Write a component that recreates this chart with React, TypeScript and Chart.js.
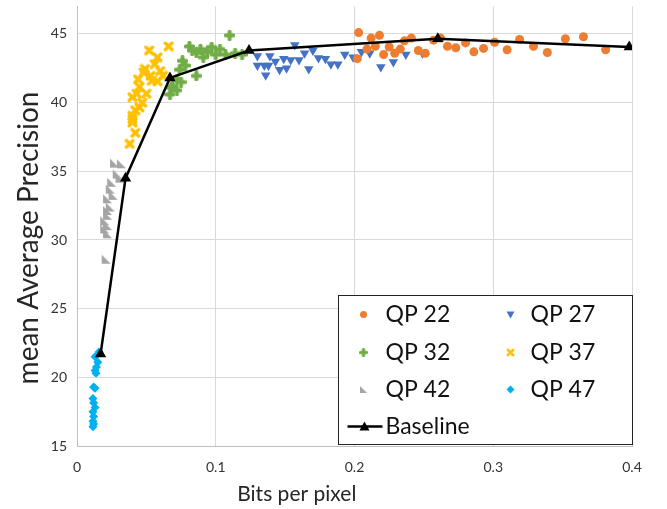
import { useEffect, useRef } from 'react';
import { Chart, registerables } from 'chart.js';

Chart.register(...registerables);

// ---- data (x = bits per pixel, y = mean Average Precision) ----
const qp22: [number, number][] = [
  [0.203, 45.1], [0.212, 44.7], [0.218, 44.9], [0.209, 43.9], [0.215, 44.1], [0.202, 43.2],
  [0.221, 43.5], [0.225, 44.05], [0.229, 43.6], [0.233, 43.9], [0.241, 44.7], [0.246, 43.8],
  [0.251, 43.6], [0.257, 44.55], [0.262, 44.7], [0.267, 44.1], [0.273, 44.0], [0.28, 44.35],
  [0.286, 43.7], [0.293, 43.95], [0.301, 44.4], [0.31, 43.85], [0.319, 44.6], [0.329, 44.1],
  [0.339, 43.65], [0.352, 44.65], [0.365, 44.8], [0.381, 43.85], [0.236, 44.5],
];
const qp27: [number, number][] = [
  [0.13, 43.4], [0.13, 42.7], [0.136, 42.0], [0.135, 42.7], [0.139, 43.4], [0.138, 42.7],
  [0.143, 43.0], [0.146, 42.4], [0.149, 43.2], [0.151, 42.5], [0.154, 43.1], [0.157, 44.2],
  [0.16, 43.1], [0.164, 43.6], [0.167, 42.45], [0.17, 43.8], [0.174, 43.25], [0.179, 43.2],
  [0.183, 42.8], [0.188, 42.8], [0.193, 43.5], [0.199, 43.3], [0.205, 43.7], [0.211, 43.6],
  [0.219, 42.6], [0.228, 42.95], [0.237, 43.5], [0.249, 43.6],
];
const qp32: [number, number][] = [
  [0.11, 44.9], [0.081, 44.1], [0.097, 44.05], [0.103, 43.9], [0.086, 43.65], [0.091, 43.3],
  [0.1, 43.5], [0.107, 43.5], [0.114, 43.6], [0.119, 43.5], [0.076, 43.05], [0.078, 42.7],
  [0.074, 42.4], [0.086, 41.95], [0.072, 41.7], [0.075, 41.5], [0.068, 41.1], [0.072, 40.9],
  [0.067, 40.6], [0.069, 41.2], [0.089, 43.9], [0.094, 43.7], [0.083, 43.8],
];
const qp37: [number, number][] = [
  [0.066, 44.1], [0.052, 43.8], [0.058, 43.3], [0.056, 42.8], [0.049, 42.45], [0.048, 42.2],
  [0.06, 42.3], [0.053, 41.95], [0.062, 41.95], [0.058, 41.55], [0.044, 41.7], [0.054, 41.6],
  [0.045, 41.15], [0.043, 40.65], [0.05, 40.65], [0.04, 40.4], [0.047, 40.0], [0.045, 39.65],
  [0.042, 39.45], [0.04, 39.05], [0.04, 38.8], [0.04, 38.55], [0.042, 37.8], [0.038, 37.0],
];
const qp42: [number, number][] = [
  [0.027, 35.6], [0.032, 35.55], [0.029, 34.8], [0.031, 34.5], [0.025, 34.2], [0.024, 33.7],
  [0.026, 33.25], [0.022, 33.0], [0.024, 32.4], [0.022, 32.15], [0.022, 31.8], [0.02, 31.4],
  [0.022, 31.05], [0.02, 30.8], [0.022, 30.45], [0.021, 28.6],
];
const qp47: [number, number][] = [
  [0.0158, 21.85], [0.013, 21.5], [0.015, 21.1], [0.014, 20.75], [0.013, 20.5], [0.0137, 20.3],
  [0.012, 19.3], [0.013, 19.2], [0.0115, 18.45], [0.012, 18.15], [0.013, 17.8], [0.0115, 17.5],
  [0.012, 17.15], [0.0115, 16.8], [0.0115, 16.4], [0.012, 16.6],
];
const baseline: [number, number][] = [
  [0.017, 21.7], [0.035, 34.5], [0.067, 41.8], [0.124, 43.8], [0.26, 44.65], [0.398, 44.05],
];
const seriesLabels = ['QP 22', 'QP 27', 'QP 32', 'QP 37', 'QP 42', 'QP 47', 'Baseline'];
const xTicks = [0, 0.1, 0.2, 0.3, 0.4];
const yTicks = [15, 20, 25, 30, 35, 40, 45];
const yMax = 47;
const xTitle = 'Bits per pixel';
const yTitle = 'mean Average Precision';

const FONT = 'Lato, "Noto Sans", sans-serif';

function toPts(a: [number, number][]) {
  return a.map(([x, y]) => ({ x, y }));
}

function makeCanvas(size: number, draw: (g: CanvasRenderingContext2D) => void) {
  const c = document.createElement('canvas');
  c.width = size;
  c.height = size;
  const g = c.getContext('2d')!;
  draw(g);
  return c;
}

export default function App() {
  const ref = useRef<HTMLCanvasElement | null>(null);

  useEffect(() => {
    if (!ref.current) return;

    const plus = makeCanvas(11, (g) => {
      g.fillStyle = '#70AD47';
      g.beginPath();
      g.roundRect(0, 3.5, 11, 4, 1.5);
      g.roundRect(3.5, 0, 4, 11, 1.5);
      g.fill();
    });
    const xMark = makeCanvas(11, (g) => {
      g.strokeStyle = '#FFC000';
      g.lineWidth = 3.4;
      g.lineCap = 'round';
      g.beginPath();
      g.moveTo(2.2, 2.2); g.lineTo(8.8, 8.8);
      g.moveTo(8.8, 2.2); g.lineTo(2.2, 8.8);
      g.stroke();
    });
    const corner = makeCanvas(11, (g) => {
      g.fillStyle = '#A5A5A5';
      g.beginPath();
      g.moveTo(1, 1); g.lineTo(1, 10); g.lineTo(10, 10);
      g.closePath();
      g.fill();
    });

    const scatterBase = { showLine: false, pointBorderWidth: 0 };
    const datasets: any[] = [
      { ...scatterBase, label: seriesLabels[0], data: toPts(qp22), backgroundColor: '#ED7D31', borderColor: '#ED7D31', pointStyle: 'circle', pointRadius: 4.5 },
      { ...scatterBase, label: seriesLabels[1], data: toPts(qp27), backgroundColor: '#4472C4', borderColor: '#4472C4', pointStyle: 'triangle', pointRotation: 180, pointRadius: 5.5 },
      { ...scatterBase, label: seriesLabels[2], data: toPts(qp32), backgroundColor: '#70AD47', borderColor: '#70AD47', pointStyle: plus, pointRadius: 5 },
      { ...scatterBase, label: seriesLabels[3], data: toPts(qp37), backgroundColor: '#FFC000', borderColor: '#FFC000', pointStyle: xMark, pointRadius: 5 },
      { ...scatterBase, label: seriesLabels[4], data: toPts(qp42), backgroundColor: '#A5A5A5', borderColor: '#A5A5A5', pointStyle: corner, pointRadius: 5 },
      { ...scatterBase, label: seriesLabels[5], data: toPts(qp47), backgroundColor: '#00B0F0', borderColor: '#00B0F0', pointStyle: 'rectRot', pointRadius: 4.5 },
      {
        label: seriesLabels[6], data: toPts(baseline), showLine: true, borderColor: '#000', backgroundColor: '#000',
        borderWidth: 2.5, pointStyle: 'triangle', pointRadius: 6.5, pointBorderWidth: 0, order: -1,
      },
    ];

    function drawMarker(ctx: CanvasRenderingContext2D, ds: any, x: number, y: number) {
      const st = ds.pointStyle;
      ctx.save();
      ctx.fillStyle = ds.backgroundColor;
      if (st instanceof HTMLCanvasElement) {
        const s = 0.8;
        ctx.drawImage(st, x - (st.width * s) / 2, y - (st.height * s) / 2, st.width * s, st.height * s);
      } else if (st === 'circle') {
        ctx.beginPath(); ctx.arc(x, y, 3.5, 0, Math.PI * 2); ctx.fill();
      } else if (st === 'triangle' && ds.pointRotation === 180) {
        ctx.beginPath(); ctx.moveTo(x - 4, y - 3); ctx.lineTo(x + 4, y - 3); ctx.lineTo(x, y + 4); ctx.closePath(); ctx.fill();
      } else if (st === 'rectRot') {
        ctx.beginPath(); ctx.moveTo(x, y - 4); ctx.lineTo(x + 4, y); ctx.lineTo(x, y + 4); ctx.lineTo(x - 4, y); ctx.closePath(); ctx.fill();
      } else if (st === 'triangle') {
        ctx.beginPath(); ctx.moveTo(x, y - 5); ctx.lineTo(x + 5, y + 4); ctx.lineTo(x - 5, y + 4); ctx.closePath(); ctx.fill();
      }
      ctx.restore();
    }

    const overlay = {
      id: 'overlay',
      afterDatasetsDraw(chart: any) {
        const ctx: CanvasRenderingContext2D = chart.ctx;
        const ca = chart.chartArea;
        // legend box
        const w = 294, h = 149;
        const bx = Math.round(ca.right - w) + 0.5;
        const by = Math.round(ca.bottom - h - 2) + 0.5;
        ctx.save();
        ctx.fillStyle = '#fff';
        ctx.fillRect(bx, by, w, h);
        ctx.strokeStyle = '#222';
        ctx.lineWidth = 1;
        ctx.strokeRect(bx, by, w, h);
        ctx.font = `23px ${FONT}`;
        ctx.textBaseline = 'middle';
        ctx.fillStyle = '#111';
        const rowY = [19, 57, 94, 131];
        const ds = chart.data.datasets;
        for (let i = 0; i < 6; i++) {
          const col = i % 2, row = Math.floor(i / 2);
          const mx = bx + (col === 0 ? 25 : 172);
          const tx = bx + (col === 0 ? 47 : 192);
          const y = by + rowY[row];
          drawMarker(ctx, ds[i], mx, y);
          ctx.fillStyle = '#111';
          ctx.fillText(ds[i].label, tx, y);
        }
        const ly = by + rowY[3];
        ctx.strokeStyle = '#000';
        ctx.lineWidth = 2.5;
        ctx.beginPath(); ctx.moveTo(bx + 9, ly); ctx.lineTo(bx + 44, ly); ctx.stroke();
        drawMarker(ctx, ds[6], bx + 26, ly);
        ctx.fillStyle = '#111';
        ctx.fillText(ds[6].label, bx + 47, ly);

        // axis titles
        ctx.fillStyle = '#262626';
        ctx.textAlign = 'center';
        ctx.font = `21px ${FONT}`;
        ctx.fillText(xTitle, ca.left + ca.width * 0.396, chart.height - 15);
        ctx.translate(29, 238);
        ctx.rotate(-Math.PI / 2);
        ctx.font = `28px ${FONT}`;
        ctx.fillText(yTitle, 0, 0);
        ctx.restore();
      },
    };

    const tickFont = { family: FONT, size: 14 };
    const chart = new Chart(ref.current, {
      type: 'scatter',
      data: { datasets },
      options: {
        animation: false,
        responsive: false,
        maintainAspectRatio: false,
        layout: { padding: { top: 5.5, right: 35, left: 0, bottom: 0 } },
        plugins: { legend: { display: false }, tooltip: { enabled: false } },
        scales: {
          x: {
            type: 'linear',
            min: xTicks[0],
            max: xTicks[xTicks.length - 1],
            afterBuildTicks: (s: any) => { s.ticks = xTicks.map((v) => ({ value: v })); },
            ticks: { padding: 13, font: tickFont, color: '#333', callback: (v: any) => String(Math.round(Number(v) * 10) / 10) },
            grid: { color: '#d9d9d9', drawTicks: false },
            border: { color: '#bfbfbf' },
            afterFit: (s: any) => { s.height = 63; s.paddingLeft = 0; s.paddingRight = 0; },
          },
          y: {
            type: 'linear',
            min: yTicks[0],
            max: yMax,
            afterBuildTicks: (s: any) => { s.ticks = yTicks.map((v) => ({ value: v })); },
            ticks: { padding: 10, font: tickFont, color: '#333' },
            grid: { color: '#d9d9d9', drawTicks: false },
            border: { color: '#bfbfbf' },
            afterFit: (s: any) => { s.width = 77; s.paddingTop = 0; s.paddingBottom = 0; },
          },
        },
      },
      plugins: [overlay],
    });
    return () => chart.destroy();
  }, []);

  return (
    <div style={{ position: 'absolute', left: 0, top: 0, width: 667, height: 509 }}>
      <canvas ref={ref} width={667} height={509} style={{ display: 'block' }} />
    </div>
  );
}
